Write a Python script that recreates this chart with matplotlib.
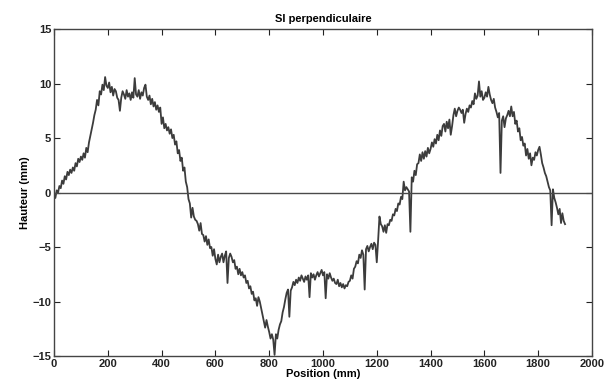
import numpy as np
import matplotlib
matplotlib.use("Agg")
import matplotlib.pyplot as plt

plt.rcParams['font.family'] = ['Liberation Sans', 'DejaVu Sans']

title = "SI perpendiculaire"
xlabel = "Position (mm)"
ylabel = "Hauteur (mm)"
xticks = [0, 200, 400, 600, 800, 1000, 1200, 1400, 1600, 1800, 2000]
yticks = [-15, -10, -5, 0, 5, 10, 15]

step_mm = 5
hauteur = [
    -0.3, -0.5, 0.2, 0.0, 0.6, 0.4, 1.1, 0.8, 1.5, 1.2, 1.9, 1.6, 2.1, 1.8, 2.3, 2.0, 2.7, 2.4, 3.1, 2.8,
    3.3, 3.0, 3.6, 3.2, 4.1, 3.7, 4.6, 5.2, 5.8, 6.4, 7.1, 7.6, 8.5, 8.0, 9.3, 9.0, 9.9, 9.4, 10.6, 9.8,
    9.6, 10.1, 9.2, 9.7, 8.9, 9.5, 9.3, 8.7, 8.5, 7.5, 8.7, 9.3, 9.0, 8.6, 9.4, 8.8, 9.1, 8.5, 9.2, 8.7,
    10.5, 9.0, 8.8, 9.4, 8.6, 9.2, 8.9, 9.6, 9.9, 8.8, 8.5, 8.9, 8.1, 8.6, 7.9, 8.3, 7.6, 8.0, 7.4, 7.8,
    6.3, 6.9, 5.9, 6.3, 5.7, 6.0, 5.4, 5.8, 5.0, 5.3, 4.4, 4.7, 3.6, 3.9, 2.9, 3.2, 2.0, 2.3, 1.0, 0.5,
    -0.6, -1.0, -2.3, -1.4, -2.2, -2.5, -2.6, -2.9, -3.5, -2.8, -3.8, -3.9, -4.5, -4.0, -4.8, -4.3, -5.1, -5.0, -5.8, -5.2,
    -6.1, -6.6, -5.7, -6.4, -5.9, -5.6, -6.4, -5.8, -5.4, -8.3, -6.0, -5.6, -5.9, -6.4, -6.2, -7.0, -6.8, -7.5, -7.0, -7.6,
    -7.3, -7.8, -7.6, -8.3, -8.1, -8.8, -8.6, -9.3, -9.1, -9.9, -9.7, -10.4, -9.6, -10.0, -10.6, -11.2, -11.8, -12.4, -11.7, -12.3,
    -12.8, -13.4, -13.0, -13.5, -14.9, -13.0, -13.4, -12.6, -12.1, -11.8, -11.0, -10.5, -9.8, -9.2, -8.9, -11.4, -9.0, -8.7, -8.2, -8.5,
    -8.0, -8.3, -7.8, -8.1, -7.6, -7.9, -8.2, -7.7, -8.0, -7.6, -9.6, -7.4, -7.8, -7.5, -8.0, -7.6, -7.3, -7.7, -7.4, -7.1,
    -7.6, -7.3, -9.7, -7.5, -7.9, -7.4, -7.8, -8.1, -7.9, -8.3, -8.4, -8.0, -8.6, -8.3, -8.7, -8.4, -8.8, -8.5, -8.6, -8.2,
    -8.1, -7.6, -7.9, -7.0, -6.8, -6.3, -6.5, -5.7, -6.0, -5.3, -5.7, -8.9, -5.2, -4.9, -5.4, -5.0, -4.7, -5.2, -4.6, -4.8,
    -6.4, -4.4, -2.2, -2.9, -3.1, -3.6, -3.0, -3.7, -2.9, -3.0, -2.5, -2.6, -2.0, -2.1, -1.5, -1.7, -1.0, -1.1, -0.4, -0.6,
    1.0, 0.2, 0.5, 0.3, 0.1, -3.6, 1.4, 1.0, 2.0, 1.6, 2.6, 2.7, 3.5, 2.9, 3.7, 3.1, 3.8, 3.3, 4.1, 3.6,
    4.0, 4.6, 4.2, 4.9, 4.5, 5.3, 4.8, 5.7, 5.2, 6.1, 6.3, 5.6, 6.5, 5.9, 6.7, 5.3, 6.1, 7.1, 7.7, 7.0,
    7.5, 7.8, 7.6, 7.3, 7.6, 6.4, 7.2, 7.7, 7.4, 8.0, 7.8, 8.4, 8.1, 9.1, 8.6, 8.9, 10.2, 8.8, 9.3, 8.5,
    8.7, 9.2, 8.8, 9.7, 9.0, 8.5, 8.2, 8.6, 7.8, 7.4, 6.9, 7.3, 1.8, 6.6, 7.0, 6.0, 6.8, 7.1, 7.5, 7.0,
    7.9, 7.0, 7.4, 6.3, 6.6, 5.6, 5.9, 4.8, 5.1, 4.3, 4.5, 3.4, 4.0, 3.1, 3.6, 2.5, 3.2, 3.0, 3.7, 3.4,
    3.9, 4.2, 3.5, 2.7, 2.3, 1.8, 1.5, 1.0, 0.5, 0.2, -3.0, 0.3, -0.5, -0.9, -1.4, -2.0, -1.5, -2.8, -1.9, -2.6,
    -2.9,
]
position = np.arange(len(hauteur)) * step_mm

fig = plt.figure(figsize=(6.09, 3.88), dpi=100)
ax = fig.add_axes([0.0887, 0.0825, 0.8833, 0.8425])

line_col = '#3c3c3c'
ax.plot(position, hauteur, color=line_col, linewidth=1.3)
ax.axhline(0, color='#4a4a4a', linewidth=1.0)

ax.set_xlim(0, 2000)
ax.set_ylim(-15, 15)
ax.set_xticks(xticks)
ax.set_yticks(yticks)
ax.tick_params(direction='in', top=True, right=True, length=4, width=0.8,
               labelsize=8, colors='#222222', pad=2)
for lab in ax.get_xticklabels() + ax.get_yticklabels():
    lab.set_fontweight('bold')
for s in ax.spines.values():
    s.set_color('#444444')
    s.set_linewidth(1.0)

ax.set_title(title, fontsize=8, fontweight='bold', pad=5)
ax.set_xlabel(xlabel, fontsize=8, fontweight='bold', labelpad=0)
ax.set_ylabel(ylabel, fontsize=8, fontweight='bold', labelpad=2)

fig.savefig("out.png", dpi=100)
